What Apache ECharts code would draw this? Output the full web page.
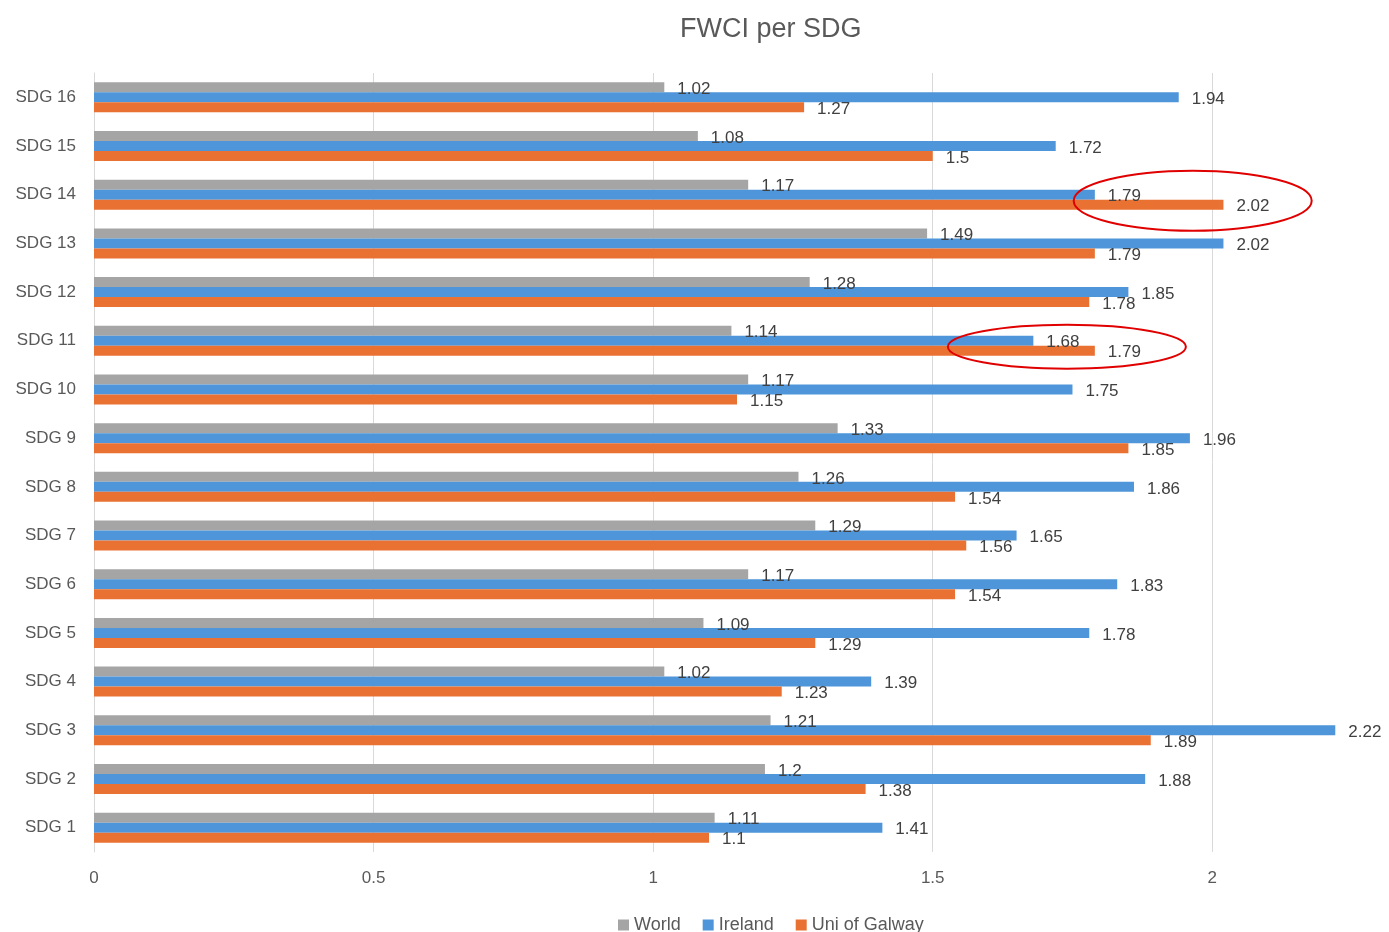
<!DOCTYPE html>
<html><head><meta charset="utf-8">
<script src="https://cdn.jsdelivr.net/npm/echarts@6/dist/echarts.min.js"></script>
<style>html,body{margin:0;padding:0;background:#fff}#c{width:1389px;height:932px}</style>
</head><body><div id="c"></div>
<script>
const categories = ['SDG 1','SDG 2','SDG 3','SDG 4','SDG 5','SDG 6','SDG 7','SDG 8','SDG 9','SDG 10','SDG 11','SDG 12','SDG 13','SDG 14','SDG 15','SDG 16'];
const world   = [1.11,1.2,1.21,1.02,1.09,1.17,1.29,1.26,1.33,1.17,1.14,1.28,1.49,1.17,1.08,1.02];
const ireland = [1.41,1.88,2.22,1.39,1.78,1.83,1.65,1.86,1.96,1.75,1.68,1.85,2.02,1.79,1.72,1.94];
const galway  = [1.1,1.38,1.89,1.23,1.29,1.54,1.56,1.54,1.85,1.15,1.79,1.78,1.79,2.02,1.5,1.27];
const highlighted = [{cat:'SDG 14', x:1.965, rx:119, ry:30}, {cat:'SDG 11', x:1.74, rx:119, ry:22}];

const chart = echarts.init(document.getElementById('c'));
const font = 'Liberation Sans, Arial, sans-serif';
const lbl = {show:true, position:'right', distance:13, offset:[0,2], color:'#404040', fontSize:17, fontFamily:font};
function s(name, data, color){
  return {name, type:'bar', data, barWidth:10, barGap:'0%', barCategoryGap:'20%',
    itemStyle:{color}, label:lbl, silent:true, animation:false};
}
chart.setOption({
  animation:false,
  title:{text:'FWCI per SDG', left:675, top:11, textStyle:{fontFamily:font, fontSize:27, fontWeight:'normal', color:'#595959'}},
  legend:{left:613, top:911, itemWidth:11, itemHeight:11, itemGap:22, icon:'rect',
    textStyle:{fontFamily:font, fontSize:18, color:'#595959'},
    data:['World','Ireland','Uni of Galway']},
  grid:{left:94, right:9, top:73, bottom:80, containLabel:false},
  xAxis:{type:'value', min:0, max:2.3, interval:0.5,
    axisLine:{show:false}, axisTick:{show:false},
    axisLabel:{showMaxLabel:false, color:'#595959', fontSize:17, fontFamily:font, margin:18},
    splitLine:{showMaxLine:false, lineStyle:{color:'#d9d9d9', width:1}}},
  yAxis:{type:'category', data:categories,
    axisLine:{show:true, lineStyle:{color:'#d9d9d9'}}, axisTick:{show:false},
    axisLabel:{color:'#595959', fontSize:17, fontFamily:font, margin:18}},
  series:[s('World', world, '#A5A5A5'), s('Ireland', ireland, '#4E95D9'), s('Uni of Galway', galway, '#E97132')]
});
const els = highlighted.map(h => {
  const p = chart.convertToPixel({gridIndex:0}, [h.x, h.cat]);
  return {type:'ellipse', shape:{cx:p[0], cy:p[1]+6, rx:h.rx, ry:h.ry}, silent:true,
    style:{fill:null, stroke:'#E00000', lineWidth:2}, z:100};
});
chart.setOption({graphic:els});
</script></body></html>
